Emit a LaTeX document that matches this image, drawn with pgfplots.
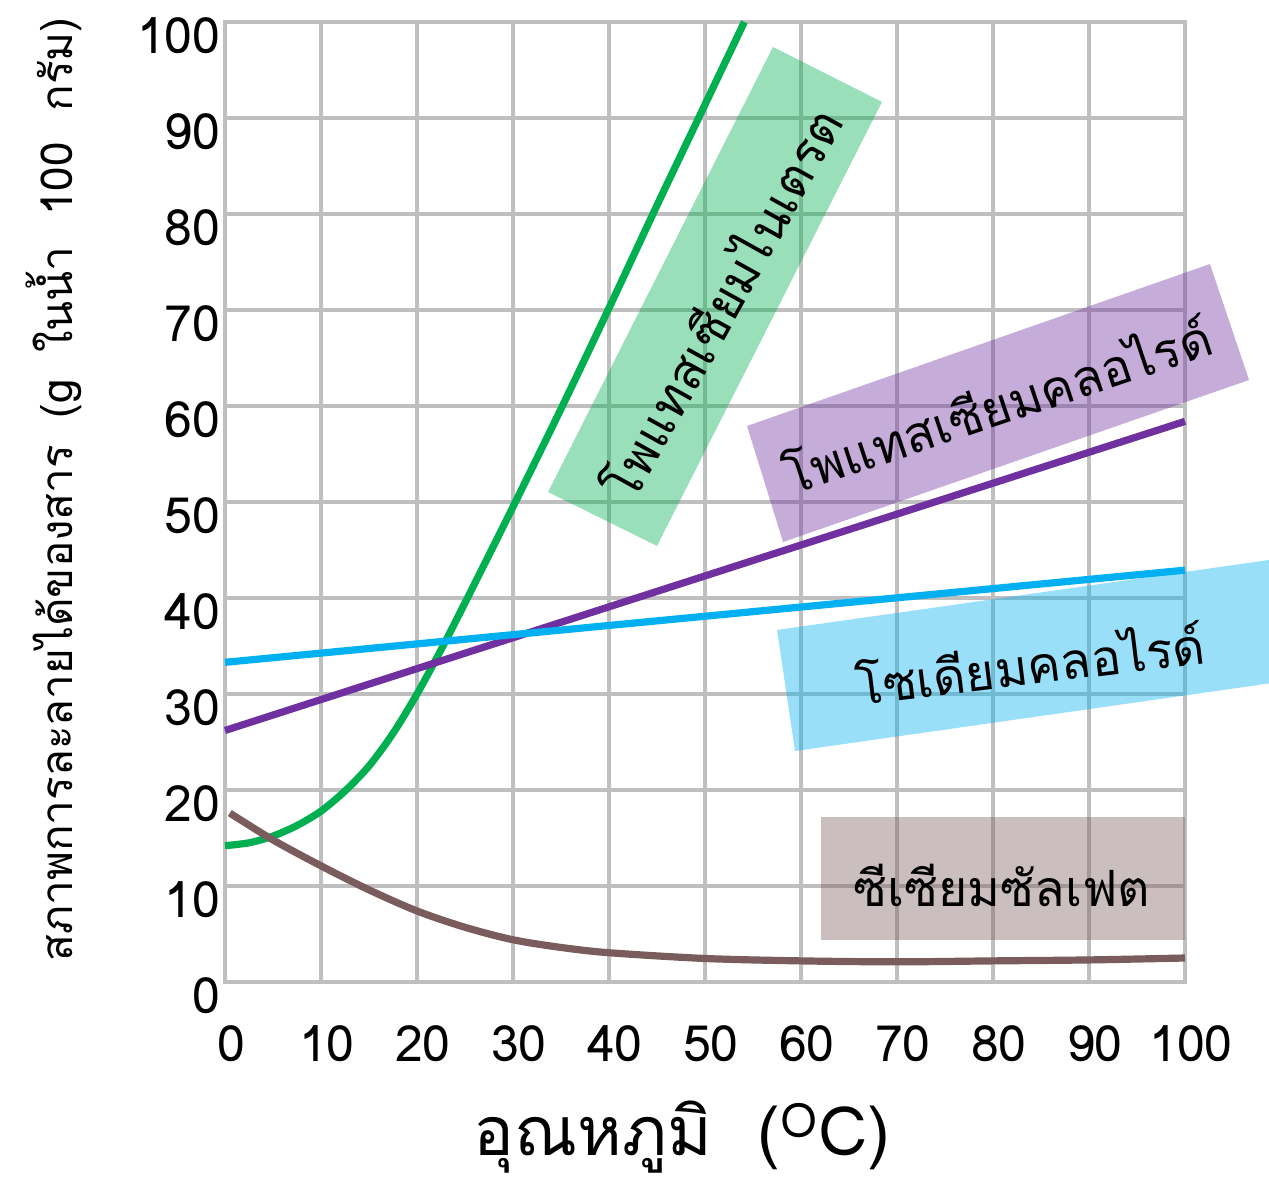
\documentclass[border=0pt]{standalone}
\usepackage{fontspec}
\setmainfont{Loma}[Script=Thai]
\usepackage{pgfplots}
\pgfplotsset{compat=1.18}

\definecolor{gridgray}{HTML}{BFBFBF}
\definecolor{kno3}{HTML}{00B050}
\definecolor{kcl}{HTML}{7030A0}
\definecolor{nacl}{HTML}{00B0F0}
\definecolor{cs2so4}{HTML}{7A5C5C}

\newcommand{\boxfont}{\fontsize{25}{25}\selectfont}

\begin{document}
\begin{tikzpicture}
\begin{axis}[
  width=480pt, height=480pt, scale only axis,
  xmin=0, xmax=100, ymin=0, ymax=100,
  xtick={0,10,...,100}, ytick={0,10,...,100},
  grid=major,
  major grid style={draw=gridgray, line width=2pt},
  axis line style={draw=gridgray, line width=2pt},
  major tick length=0pt,
  tick label style={font=\fontsize{25}{25}\selectfont},
  /pgf/number format/assume math mode=true,
  xticklabel style={anchor=north, inner sep=0pt, yshift=-21.5pt, xshift=3pt},
  yticklabel style={anchor=east, inner sep=0pt, xshift=-2pt, yshift=-7pt},
  xlabel={อุณหภูมิ~~(\textsuperscript{O}C)},
  ylabel={สภาพการละลายได้ของสาร\hspace{0.6em}(g\hspace{0.6em}ในน้ำ\hspace{0.7em}100\hspace{0.7em}กรัม)},
  xlabel style={font=\fontsize{34}{34}\selectfont, at={(axis description cs:0.476,-0.181)}, anchor=base},
  ylabel style={font=\fontsize{22}{22}\selectfont, at={(axis description cs:-0.178,0.513)}, anchor=center},
  clip=false,
  every axis plot/.append style={line width=3.6pt, line cap=butt},
]

% label boxes
\fill[kno3, opacity=0.4] (axis cs:33.65,51.04) -- (axis cs:57.08,97.40) -- (axis cs:68.44,91.67) -- (axis cs:45.0,45.42) -- cycle;
\fill[kcl, opacity=0.4] (axis cs:54.38,57.92) -- (axis cs:102.6,74.79) -- (axis cs:106.67,62.71) -- (axis cs:58.13,45.83) -- cycle;
\fill[nacl, opacity=0.4] (axis cs:57.5,36.67) -- (axis cs:111.98,44.42) -- (axis cs:111.98,31.56) -- (axis cs:59.38,24.06) -- cycle;
\fill[cs2so4, opacity=0.4] (axis cs:62.08,4.375) rectangle (axis cs:100,17.19);

% potassium nitrate
\addplot[kno3, smooth] coordinates {
  (0,14.2) (2.5,14.5) (5,15.2) (7.5,16.3) (10,17.8) (12.5,19.9) (15,22.5)
  (17.5,25.9) (20,30.0) (22.5,34.6) (25,39.5) (30,49.5)
  (35,59.7) (40,70.2) (45,80.9) (50,91.4) (54.1,100)
};
% potassium chloride
\addplot[kcl] coordinates {(0,26.2) (100,58.4)};
% sodium chloride
\addplot[nacl] coordinates {(0,33.3) (100,42.9)};
% cesium sulfate
\addplot[cs2so4, smooth] coordinates {
  (0.5,17.6) (5,14.8) (10,12.1) (15,9.6) (20,7.4) (25,5.7) (30,4.4) (35,3.6)
  (40,3.05) (50,2.45) (60,2.2) (70,2.1) (80,2.2) (90,2.3) (100,2.5)
};

\node[rotate=61, font=\boxfont] at (axis cs:51.56,70.8) {โพแทสเซียมไนเตรต};
\node[rotate=18.5, font=\boxfont] at (axis cs:80.4,60.3) {โพแทสเซียมคลอไรด์};
\node[rotate=7, font=\boxfont] at (axis cs:83.85,33.3) {โซเดียมคลอไรด์};
\node[font=\boxfont] at (axis cs:80.9,10.1) {ซีเซียมซัลเฟต};
\end{axis}
\pgfresetboundingbox
\path[use as bounding box] (-112.5pt,-101.5pt) rectangle (522pt,491pt);
\end{tikzpicture}
\end{document}
